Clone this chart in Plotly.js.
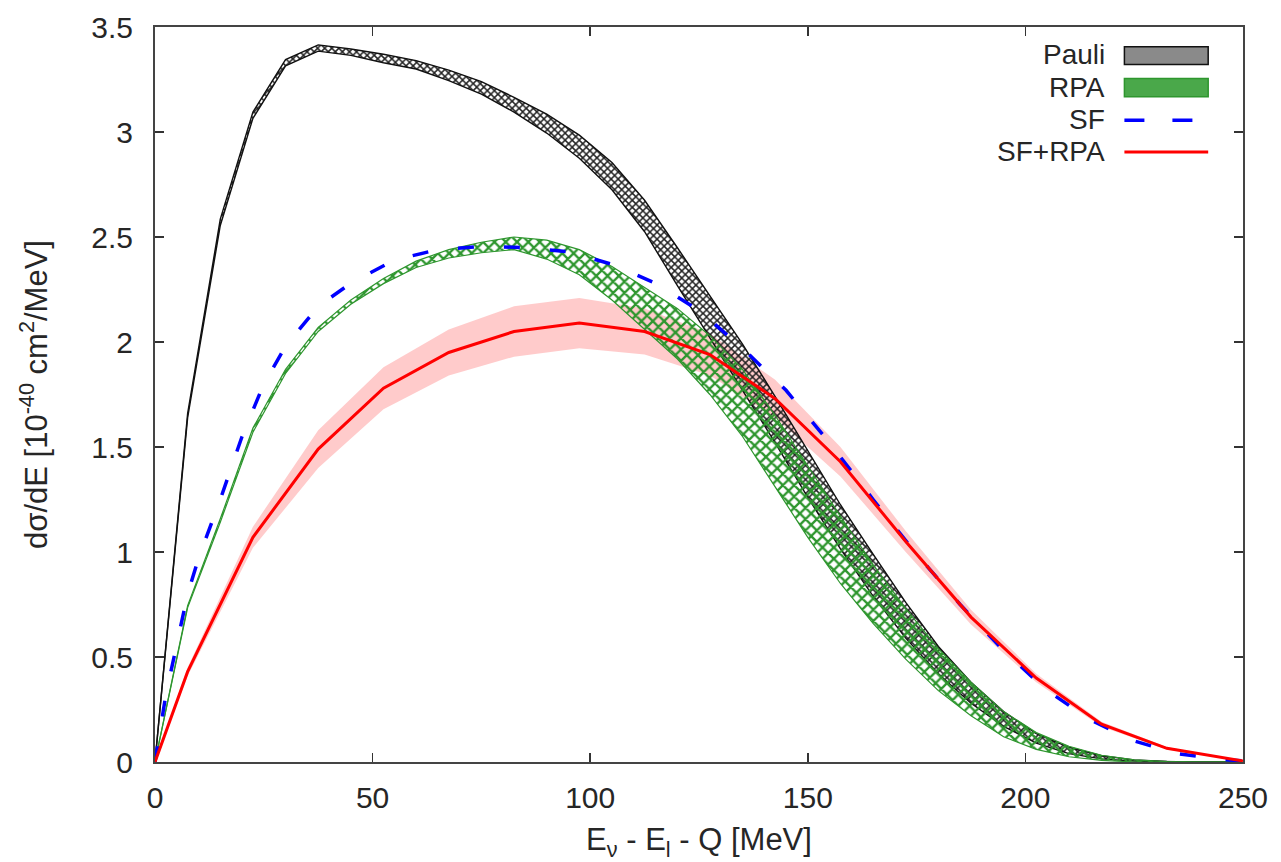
<!DOCTYPE html>
<html>
<head>
<meta charset="utf-8">
<script src="https://cdn.plot.ly/plotly-3.0.1.min.js"></script>
<style>html,body{margin:0;padding:0;background:#fff;}#chart{width:1281px;height:862px;}</style>
</head>
<body>
<div id="chart"></div>
<script>
// ---- data ----
const gridX = [0,7.5,15,22.5,30,37.5,45,52.5,60,67.5,75,82.5,90,97.5,105,112.5,120,127.5,135,142.5,150,157.5,165,172.5,180,187.5,195,202.5,210,217.5,225,232.5,240,247.5];

const pauliUpper = [0,1.66,2.585,3.095,3.345,3.415,3.395,3.37,3.34,3.295,3.24,3.165,3.085,2.985,2.855,2.675,2.45,2.22,1.99,1.74,1.48,1.225,0.99,0.76,0.55,0.38,0.24,0.135,0.07,0.03,0.01,0.003,0,0];
const pauliLower = [0,1.64,2.555,3.065,3.315,3.385,3.365,3.33,3.30,3.245,3.18,3.095,2.995,2.875,2.725,2.525,2.27,2.02,1.77,1.52,1.26,1.015,0.79,0.59,0.42,0.28,0.17,0.09,0.04,0.015,0.004,0.001,0,0];

const rpaUpper = [0,0.745,1.158,1.59,1.87,2.07,2.20,2.302,2.385,2.44,2.475,2.50,2.485,2.44,2.36,2.26,2.16,2.03,1.87,1.65,1.41,1.17,0.94,0.73,0.54,0.38,0.24,0.14,0.075,0.032,0.01,0.002,0,0];
const rpaLower = [0,0.735,1.142,1.57,1.85,2.05,2.18,2.278,2.355,2.40,2.425,2.44,2.395,2.32,2.20,2.06,1.92,1.75,1.55,1.31,1.07,0.85,0.66,0.49,0.34,0.22,0.12,0.06,0.025,0.008,0,0,0,0];

const sfX = [0,2.5,5,7.5,10,15,20,25,30,37.5,45,55,65,75,85,95,105,115,125,135,145,155,165,175,185,195,205,215,225,235,245,250];
const sfY = [0,0.32,0.56,0.80,0.97,1.25,1.55,1.80,1.98,2.17,2.28,2.39,2.44,2.455,2.45,2.43,2.37,2.28,2.15,1.97,1.77,1.52,1.25,0.99,0.75,0.53,0.34,0.20,0.10,0.04,0.012,0.005];

const sfrpaX = [0,7.5,22.5,37.5,52.5,67.5,82.5,97.5,112.5,127.5,142.5,157.5,172.5,187.5,202.5,217.5,232.5,247.5,250];
const sfrpaY = [0,0.43,1.07,1.49,1.78,1.95,2.05,2.09,2.05,1.94,1.73,1.43,1.05,0.69,0.40,0.18,0.065,0.012,0.005];
const sfrpaUpper = [0,0.45,1.12,1.58,1.88,2.06,2.17,2.21,2.16,2.04,1.82,1.50,1.10,0.725,0.42,0.192,0.071,0.014,0.005];
const sfrpaLower = [0,0.41,1.02,1.40,1.68,1.84,1.93,1.97,1.94,1.84,1.64,1.36,1.00,0.655,0.38,0.168,0.059,0.01,0.005];

const xTicks = [0,50,100,150,200,250];
const yTicks = [0,0.5,1,1.5,2,2.5,3,3.5];
const legendNames = ['Pauli','RPA','SF','SF+RPA'];

const FONT = 'Liberation Sans, Arial, Helvetica, sans-serif';
const TXT = '#262626';
const TICKSIZE = 30;
const TITLESIZE = 31;
const LEGSIZE = 28;

const traces = [
  {x: sfrpaX, y: sfrpaLower, mode:'lines', line:{width:0, color:'rgba(0,0,0,0)'}, showlegend:false, hoverinfo:'skip'},
  {x: sfrpaX, y: sfrpaUpper, mode:'lines', line:{width:0, color:'rgba(0,0,0,0)'}, fill:'tonexty', fillcolor:'rgba(255,130,130,0.42)', showlegend:false, hoverinfo:'skip'},
  {x: gridX, y: pauliLower, mode:'lines', line:{width:1.4, color:'#111'}, showlegend:false},
  {x: gridX, y: pauliUpper, mode:'lines', line:{width:1.4, color:'#111'}, fill:'tonexty',
   fillpattern:{shape:'x', fgcolor:'#222', size:5, solidity:0.5}, name: legendNames[0], showlegend:false},
  {x: gridX, y: rpaLower, mode:'lines', line:{width:1.2, color:'#2e962e'}, showlegend:false},
  {x: gridX, y: rpaUpper, mode:'lines', line:{width:1.2, color:'#2e962e'}, fill:'tonexty',
   fillpattern:{shape:'x', fgcolor:'#2e962e', size:8, solidity:0.5}, name: legendNames[1], showlegend:false},
  {x: sfX, y: sfY, mode:'lines', line:{width:3.5, color:'#0000ff', dash:'16px,30px'}, name: legendNames[2], showlegend:false},
  {x: sfrpaX, y: sfrpaY, mode:'lines', line:{width:3, color:'#ff0000'}, name: legendNames[3], showlegend:false}
];

const legTextY = [0.962, 0.918, 0.874, 0.830];
const annotations = legendNames.map((t,i)=>({
  xref:'paper', yref:'paper', x:0.874, y:legTextY[i], xanchor:'right', yanchor:'middle',
  text:t, showarrow:false, font:{family:FONT, size:LEGSIZE, color:TXT}, borderpad:0
}));

const shapes = [
  {type:'rect', xref:'paper', yref:'paper', x0:0.891, x1:0.968, y0:0.949, y1:0.973, fillcolor:'#8a8a8a', line:{color:'#111', width:1.5}},
  {type:'rect', xref:'paper', yref:'paper', x0:0.891, x1:0.968, y0:0.905, y1:0.930, fillcolor:'#4aa84a', line:{color:'#2e962e', width:1.5}},
  {type:'line', xref:'paper', yref:'paper', x0:0.891, x1:0.968, y0:0.873, y1:0.873, line:{color:'#0000ff', width:3.5, dash:'20px,28px'}},
  {type:'line', xref:'paper', yref:'paper', x0:0.891, x1:0.968, y0:0.830, y1:0.830, line:{color:'#ff0000', width:3}}
];

const layout = {
  width:1281, height:862,
  margin:{l:155, r:38, t:27, b:100},
  paper_bgcolor:'#fff', plot_bgcolor:'#fff',
  showlegend:false,
  font:{family:FONT, size:TICKSIZE, color:TXT},
  xaxis:{
    range:[0,250], tickmode:'array', tickvals:xTicks, ticks:'inside', ticklen:9, tickwidth:1.5, tickcolor:'#333',
    showline:true, linecolor:'#444', linewidth:2, mirror:'ticks', showgrid:false, zeroline:false,
    tickfont:{family:FONT, size:TICKSIZE, color:TXT}, ticklabelstandoff:8,
    title:{text:'E<sub>ν</sub> - E<sub>l</sub> - Q [MeV]', font:{family:FONT, size:TITLESIZE, color:TXT}, standoff:16}
  },
  yaxis:{
    range:[0,3.5], tickmode:'array', tickvals:yTicks, ticks:'inside', ticklen:9, tickwidth:1.5, tickcolor:'#333',
    showline:true, linecolor:'#444', linewidth:2, mirror:'ticks', showgrid:false, zeroline:false,
    tickfont:{family:FONT, size:TICKSIZE, color:TXT}, ticklabelstandoff:14,
    title:{text:'dσ/dE [10<sup>-40</sup> cm<sup>2</sup>/MeV]', font:{family:FONT, size:TITLESIZE, color:TXT}, standoff:34}
  },
  annotations: annotations,
  shapes: shapes
};

Plotly.newPlot('chart', traces, layout, {staticPlot:true, displayModeBar:false});
</script>
</body>
</html>
